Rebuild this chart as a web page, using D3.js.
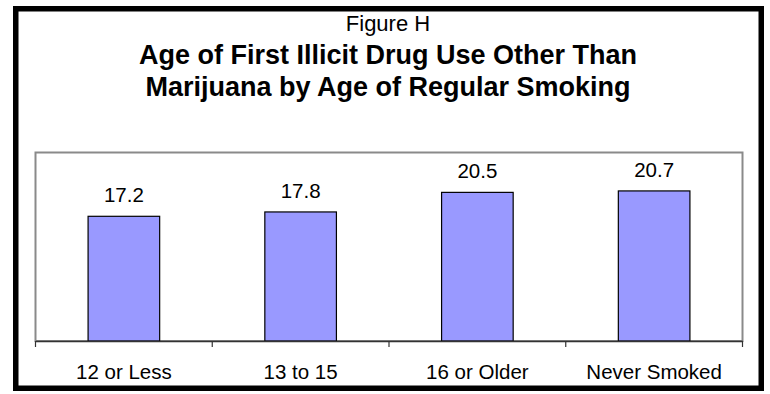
<!DOCTYPE html>
<html><head><meta charset="utf-8">
<script src="https://cdn.jsdelivr.net/npm/d3@7"></script>
<style>body{margin:0;background:#fff} text{font-family:"Liberation Sans",Arial,sans-serif}</style>
</head><body><svg id="c" width="770" height="394"></svg>
<script>
const categories = ["12 or Less", "13 to 15", "16 or Older", "Never Smoked"];
const values = [17.2, 17.8, 20.5, 20.7];
const valueLabels = ["17.2", "17.8", "20.5", "20.7"];
const titleLines = ["Figure H", "Age of First Illicit Drug Use Other Than", "Marijuana by Age of Regular Smoking"];
const yDomain = [0, 26];

const svg = d3.select("#c");
svg.append("rect").attr("width", 770).attr("height", 394).attr("fill", "#fff");
// outer frame
svg.append("rect").attr("x", 15.75).attr("y", 8.75).attr("width", 745.5).attr("height", 379.5)
  .attr("fill", "none").attr("stroke", "#000").attr("stroke-width", 5.5);

const plot = {left: 35.5, right: 742.5, top: 152.5, bottom: 341};
const x = d3.scaleBand().domain(categories).range([plot.left, plot.right]).padding(0);
const y = d3.scaleLinear().domain(yDomain).range([plot.bottom, plot.top]);

// plot area border
svg.append("rect").attr("x", plot.left).attr("y", plot.top)
  .attr("width", plot.right - plot.left).attr("height", plot.bottom - plot.top)
  .attr("fill", "#fff").attr("stroke", "#8a8a8a").attr("stroke-width", 2);

// title
const titleX = 388;
const tSpec = [{size: 22, weight: "normal", y: 31}, {size: 27, weight: "bold", y: 64}, {size: 27, weight: "bold", y: 96}];
svg.append("g").selectAll("text").data(titleLines).join("text")
  .attr("x", titleX).attr("y", (d, i) => tSpec[i].y)
  .attr("text-anchor", "middle").attr("font-size", (d, i) => tSpec[i].size)
  .attr("font-weight", (d, i) => tSpec[i].weight).attr("fill", "#000").text(d => d);

// bars
const bw = x.bandwidth() * 0.405;
svg.append("g").selectAll("rect").data(values).join("rect")
  .attr("x", (d, i) => x(categories[i]) + (x.bandwidth() - bw) / 2)
  .attr("y", d => y(d)).attr("width", bw).attr("height", d => y(0) - y(d))
  .attr("fill", "#9999ff").attr("stroke", "#000").attr("stroke-width", 1.2);

// value labels
svg.append("g").selectAll("text").data(values).join("text")
  .attr("x", (d, i) => x(categories[i]) + x.bandwidth() / 2)
  .attr("y", d => y(d) - 14).attr("text-anchor", "middle")
  .attr("font-size", 20.5).attr("fill", "#000").text((d, i) => valueLabels[i]);

// x axis
const ax = svg.append("g").attr("transform", `translate(0,${plot.bottom})`)
  .call(d3.axisBottom(x).tickSize(0).tickPadding(0));
ax.select(".domain").attr("stroke", "#333").attr("stroke-width", 1.5);
ax.selectAll("text").attr("font-size", 20.5).attr("fill", "#000")
  .attr("y", 38).attr("dy", 0).attr("font-family", "Liberation Sans, Arial, sans-serif");
// category boundary ticks
const edges = categories.map(c => x(c)).concat([plot.right]);
ax.append("g").selectAll("line").data(edges).join("line")
  .attr("x1", d => d).attr("x2", d => d).attr("y1", 0).attr("y2", 6)
  .attr("stroke", "#333").attr("stroke-width", 1.2);
</script></body></html>
